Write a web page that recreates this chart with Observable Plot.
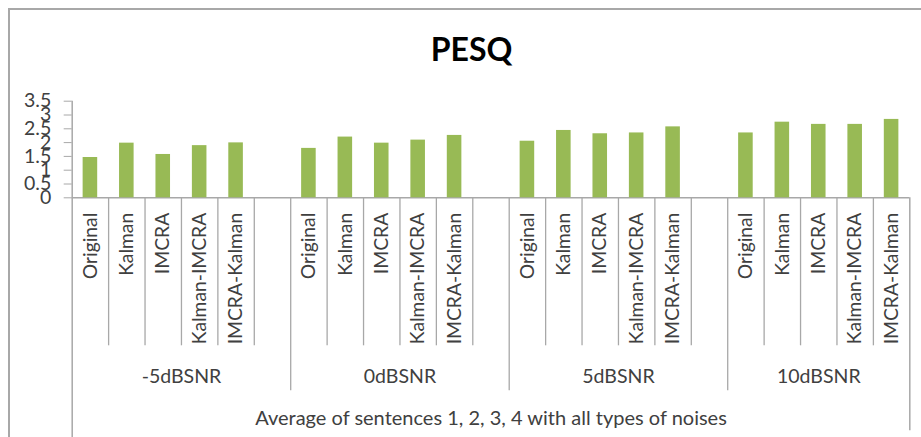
<!DOCTYPE html>
<html>
<head>
<meta charset="utf-8">
<script src="https://cdn.jsdelivr.net/npm/d3@7"></script>
<script src="https://cdn.jsdelivr.net/npm/@observablehq/plot@0.6"></script>
<style>
  html, body { margin: 0; padding: 0; background: #fff; overflow: hidden; }
  #wrap { position: relative; width: 921px; height: 437px; }
  #border { position: absolute; left: 8px; top: 8px; width: 1000px; height: 500px;
            border-top: 2px solid #a8a8a8; border-left: 2px solid #a8a8a8; }
  #chart { position: absolute; left: 0; top: 0; }
</style>
</head>
<body>
<div id="wrap"><div id="border"></div><div id="chart"></div></div>
<script>
// ---- data ----
const title = "PESQ";
const caption = "Average of sentences 1, 2, 3, 4 with all types of noises";
const groups = ["-5dBSNR", "0dBSNR", "5dBSNR", "10dBSNR"];
const methods = ["Original", "Kalman", "IMCRA", "Kalman-IMCRA", "IMCRA-Kalman"];
const pesqMinus5 = [1.46, 1.98, 1.57, 1.89, 1.99];
const pesq0 = [1.79, 2.20, 1.98, 2.09, 2.26];
const pesq5 = [2.05, 2.44, 2.32, 2.35, 2.57];
const pesq10 = [2.35, 2.74, 2.66, 2.66, 2.84];
const yTicks = [0, 0.5, 1, 1.5, 2, 2.5, 3, 3.5];

const series = [pesqMinus5, pesq0, pesq5, pesq10];

// one slot per category; Excel-style blank category after every group but the last
const slots = [];
groups.forEach((g, gi) => {
  methods.forEach((m, mi) => slots.push({key: `${gi}|${m}`, group: g, gi, method: m, value: series[gi][mi]}));
  if (gi < groups.length - 1) slots.push({key: `${gi}|blank`, group: g, gi, method: "", value: null});
});
const bars = slots.filter(d => d.value != null);

// ---- layout ----
const W = 921, H = 437;
const mLeft = 71.7, mRight = 11.7, mTop = 100.7, mBottom = 239.7;
const frameH = H - mTop - mBottom;
const step = (W - mLeft - mRight) / slots.length;
const green = "#98ba55";
const lineCol = "#a8a8a8";
const textCol = "#404040";
const font = "Lato, 'Open Sans', sans-serif";

const innerEdges = slots.filter((d, i) => i > 0 && slots[i - 1].gi === d.gi).map(d => d.key);
const groupEdges = slots.filter((d, i) => i > 0 && slots[i - 1].gi !== d.gi).map(d => d.key);
const groupInfo = groups.map((g, gi) => {
  const s = slots.filter(d => d.gi === gi);
  return {group: g, first: s[0].key, n: s.length};
});
const keyMethod = new Map(slots.map(d => [d.key, d.method]));

const plot = Plot.plot({
  width: W,
  height: H,
  marginLeft: mLeft,
  marginRight: mRight,
  marginTop: mTop,
  marginBottom: mBottom,
  style: {background: "transparent", fontFamily: font, color: textCol},
  x: {type: "band", domain: slots.map(d => d.key), paddingInner: 0.6, paddingOuter: 0.3, align: 0.5, round: false},
  y: {domain: [0, 3.5]},
  marks: [
    // category table lines
    Plot.ruleX(innerEdges, {x: d => d, dx: -step / 2, stroke: lineCol, strokeWidth: 1.3,
      insetTop: frameH, insetBottom: -148}),
    Plot.ruleX(groupEdges, {x: d => d, dx: -step / 2, stroke: lineCol, strokeWidth: 1.3,
      insetTop: frameH, insetBottom: -193}),
    Plot.ruleX([slots[slots.length - 1].key], {x: d => d, dx: step / 2, stroke: lineCol, strokeWidth: 1.5,
      insetTop: frameH, insetBottom: -233}),
    Plot.ruleX([slots[0].key], {x: d => d, dx: -step / 2, stroke: lineCol, strokeWidth: 1.5,
      insetTop: 0, insetBottom: -240}),
    Plot.ruleY([0], {stroke: lineCol, strokeWidth: 1.5}),
    Plot.barY(bars, {x: "key", y: "value", fill: green}),
    Plot.axisY({ticks: yTicks, tickFormat: d => String(d), tickSize: 8, tickPadding: 13,
      fontSize: 19.5, stroke: lineCol, fill: textCol, label: null}),
    Plot.axisX({tickRotate: -90, tickSize: 0, tickPadding: 15, fontSize: 19.3,
      tickFormat: k => keyMethod.get(k), fill: textCol, label: null}),
    ...groupInfo.map(g => Plot.text([g], {x: "first", dx: (g.n - 1) * step / 2, dy: 179.4,
      text: "group", frameAnchor: "bottom", lineAnchor: "middle", fontSize: 19.5, fill: textCol})),
    Plot.text([caption], {frameAnchor: "bottom", lineAnchor: "middle", dy: 221, fontSize: 20, fill: textCol}),
    Plot.text([title], {frameAnchor: "top", lineAnchor: "middle", dx: -19.5, dy: -50,
      fontSize: 32, fontWeight: "bold", fill: "#000"})
  ]
});
document.getElementById("chart").appendChild(plot);
</script>
</body>
</html>
